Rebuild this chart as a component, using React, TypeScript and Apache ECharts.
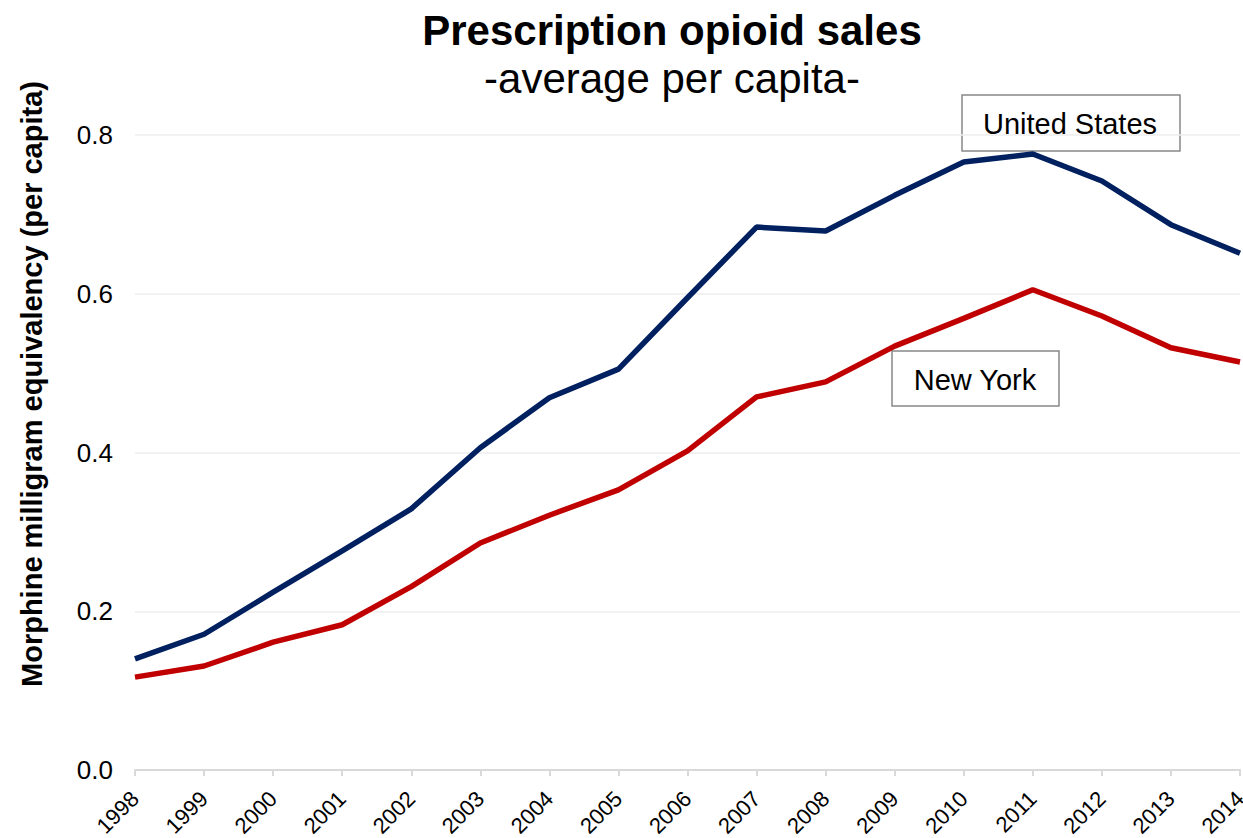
import React, { useEffect, useRef } from "react";
import * as echarts from "echarts";

const years = ["1998","1999","2000","2001","2002","2003","2004","2005","2006","2007","2008","2009","2010","2011","2012","2013","2014"];
const usValues = [0.140,0.171,0.224,0.276,0.329,0.406,0.469,0.505,0.595,0.684,0.679,0.724,0.766,0.776,0.742,0.687,0.651];
const nyValues = [0.117,0.131,0.161,0.183,0.231,0.286,0.321,0.353,0.402,0.470,0.489,0.534,0.569,0.605,0.572,0.532,0.514];
const yTicks = [0, 0.2, 0.4, 0.6, 0.8];

const FONT = "'Liberation Sans', Arial, sans-serif";

export default function App() {
  const ref = useRef<HTMLDivElement>(null);
  useEffect(() => {
    const chart = echarts.init(ref.current!, null, { renderer: "svg" });
    chart.setOption({
      animation: false,
      textStyle: { fontFamily: FONT },
      grid: { left: 135, right: 3, top: 135, bottom: 68, containLabel: false, outerBoundsMode: "none" },
      xAxis: {
        type: "category",
        data: years,
        boundaryGap: false,
        axisLine: { lineStyle: { color: "#d9d9d9", width: 2 } },
        axisTick: { show: true, length: 6, lineStyle: { color: "#d9d9d9", width: 2 } },
        axisLabel: { rotate: 45, fontSize: 22, color: "#000", fontFamily: FONT, margin: 25, interval: 0, hideOverlap: false },
        splitLine: { show: false },
      },
      yAxis: {
        type: "value",
        min: 0,
        max: 0.8,
        interval: 0.2,
        axisLine: { show: false },
        axisTick: { show: false },
        axisLabel: {
          fontSize: 26, color: "#000", fontFamily: FONT, margin: 22,
          formatter: (v: number) => (yTicks.includes(Math.round(v * 10) / 10) ? v.toFixed(1) : ""),
        },
        splitLine: { lineStyle: { color: "#eeeeee", width: 1.5 } },
      },
      series: [
        {
          name: "United States",
          type: "line",
          data: usValues,
          symbol: "none",
          lineStyle: { color: "#002060", width: 5.5 },
          z: 3,
        },
        {
          name: "New York",
          type: "line",
          data: nyValues,
          symbol: "none",
          lineStyle: { color: "#c00000", width: 5.5 },
          z: 2,
        },
      ],
      graphic: [
        {
          type: "text",
          x: 672,
          y: 30,
          style: {
            text: "Prescription opioid sales",
            fontFamily: FONT, fontSize: 42, fontWeight: "bold", fill: "#000",
            textAlign: "center", textVerticalAlign: "middle",
          },
        },
        {
          type: "text",
          x: 672,
          y: 78,
          style: {
            text: "-average per capita-",
            fontFamily: FONT, fontSize: 42, fill: "#000",
            textAlign: "center", textVerticalAlign: "middle",
          },
        },
        {
          type: "text",
          x: 32,
          y: 384,
          rotation: Math.PI / 2,
          style: {
            text: "Morphine milligram equivalency (per capita)",
            fontFamily: FONT,
            fontSize: 29,
            fontWeight: "bold",
            fill: "#000",
            textAlign: "center",
            textVerticalAlign: "middle",
          },
        },
        {
          type: "group",
          x: 962,
          y: 95,
          z: 100,
          children: [
            { type: "rect", shape: { x: 0, y: 0, width: 218, height: 56 }, style: { fill: "#fff", stroke: "#888", lineWidth: 1.5 } },
            { type: "text", x: 108, y: 29, style: { text: "United States", fontFamily: FONT, fontSize: 29, fill: "#000", textAlign: "center", textVerticalAlign: "middle" } },
          ],
        },
        {
          type: "group",
          x: 892,
          y: 351,
          z: 100,
          children: [
            { type: "rect", shape: { x: 0, y: 0, width: 167, height: 55 }, style: { fill: "#fff", stroke: "#888", lineWidth: 1.5 } },
            { type: "text", x: 83, y: 29, style: { text: "New York", fontFamily: FONT, fontSize: 29, fill: "#000", textAlign: "center", textVerticalAlign: "middle" } },
          ],
        },
      ],
    });
    return () => chart.dispose();
  }, []);
  return <div ref={ref} style={{ width: 1243, height: 838, position: "absolute", left: 0, top: 0 }} />;
}
